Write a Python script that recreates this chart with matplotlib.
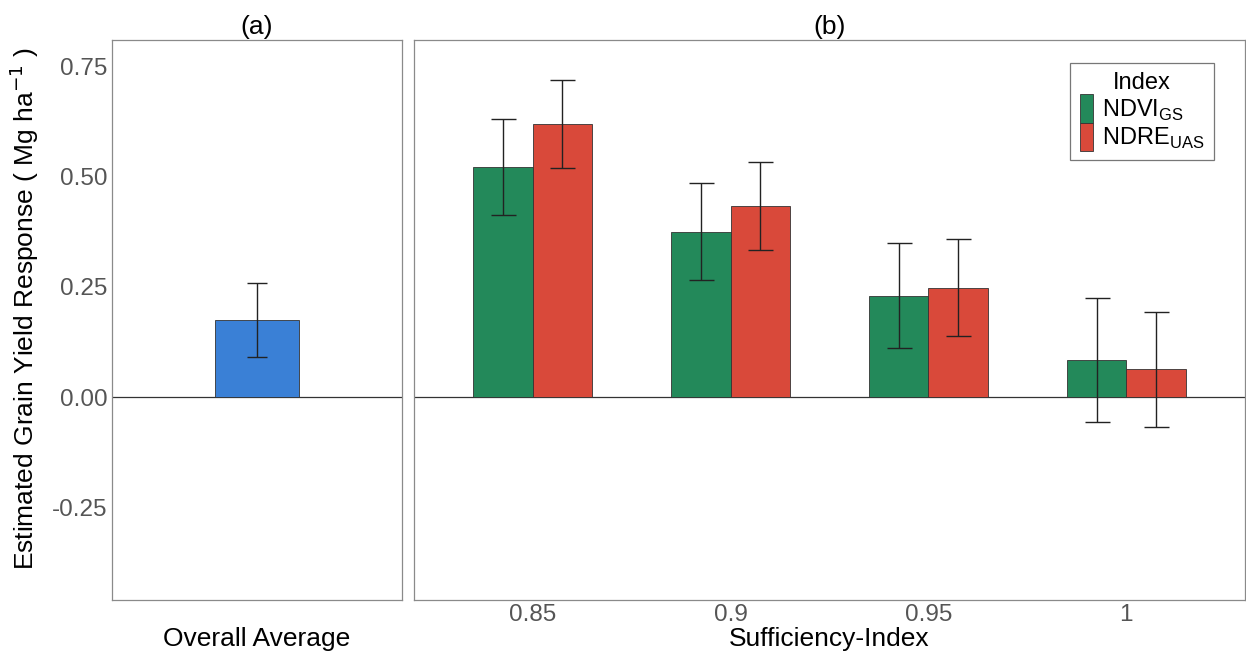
import numpy as np
import matplotlib
matplotlib.use("Agg")
import matplotlib.pyplot as plt
from matplotlib.patches import Patch

plt.rcParams['font.family'] = ['Liberation Sans', 'DejaVu Sans']

# ========== data ==========
overall_label = ['Overall']
overall_est = [0.175]
overall_lo = [0.091]
overall_hi = [0.259]

si_levels = ['0.85', '0.9', '0.95', '1']
ndvi_est = [0.523, 0.375, 0.230, 0.084]
ndvi_lo = [0.414, 0.266, 0.111, -0.057]
ndvi_hi = [0.632, 0.486, 0.350, 0.225]
ndre_est = [0.620, 0.434, 0.248, 0.064]
ndre_lo = [0.520, 0.334, 0.139, -0.068]
ndre_hi = [0.720, 0.534, 0.359, 0.193]

yticks = [-0.25, 0.0, 0.25, 0.5, 0.75]
ylim = (-0.461, 0.811)

c_blue = '#3a80d6'
c_green = '#23895a'
c_red = '#d9493a'
edge = '#333333'
tick_col = '#555555'
frame_col = '#8a8a8a'
FS = 19      # axis titles
TFS = 17.5   # tick labels

fig = plt.figure(figsize=(12.46, 6.54), dpi=100)
ax_a = fig.add_axes([0.0899, 0.0826, 0.2327, 0.8562])
ax_b = fig.add_axes([0.3323, 0.0826, 0.6669, 0.8562])

err_kw = dict(ecolor='#222222', elinewidth=1.0, capsize=9, capthick=1.0)

# panel (a)
xa = np.arange(len(overall_label))
ya = np.array(overall_est)
ax_a.bar(xa, ya, width=0.35, color=c_blue, edgecolor=edge, linewidth=0.6,
         yerr=[ya - np.array(overall_lo), np.array(overall_hi) - ya],
         error_kw=dict(err_kw, capsize=7))
ax_a.set_xlim(-0.6, 0.6)
ax_a.set_xticks(xa)
ax_a.set_xticklabels([''])
ax_a.set_xlabel('Overall Average', fontsize=FS)
ax_a.set_title('(a)', fontsize=FS, pad=4)

# panel (b)
xb = np.arange(len(si_levels))
w = 0.3
yv = np.array(ndvi_est)
yr = np.array(ndre_est)
ax_b.bar(xb - w / 2, yv, width=w, color=c_green, edgecolor=edge, linewidth=0.6,
         yerr=[yv - np.array(ndvi_lo), np.array(ndvi_hi) - yv], error_kw=err_kw)
ax_b.bar(xb + w / 2, yr, width=w, color=c_red, edgecolor=edge, linewidth=0.6,
         yerr=[yr - np.array(ndre_lo), np.array(ndre_hi) - yr], error_kw=err_kw)
ax_b.set_xlim(-0.6, len(si_levels) - 0.4)
ax_b.set_xticks(xb)
ax_b.set_xticklabels(si_levels)
ax_b.set_xlabel('Sufficiency-Index', fontsize=FS)
ax_b.set_title('(b)', fontsize=FS, pad=4)

for ax in (ax_a, ax_b):
    ax.set_ylim(*ylim)
    ax.set_yticks(yticks)
    ax.axhline(0, color='#333333', linewidth=0.9, zorder=0.5)
    for s in ax.spines.values():
        s.set_color(frame_col)
        s.set_linewidth(0.9)
    ax.tick_params(axis='both', colors=frame_col, labelcolor=tick_col,
                   labelsize=TFS, length=0, pad=3)
    # both x-axis titles sit at the same height, below the tick labels
    ax.xaxis.set_label_coords(0.5, -0.048)
    ax.xaxis.label.set_va('top')

ax_a.set_yticklabels(['-0.25', '0.00', '0.25', '0.50', '0.75'])
ax_b.tick_params(axis='y', left=False, labelleft=False)
ax_a.set_ylabel('Estimated Grain Yield Response ( Mg ha$^{-1}$ )', fontsize=FS)
ax_a.yaxis.set_label_coords(-0.245, 0.52)

handles = [Patch(facecolor=c_green, edgecolor=edge, linewidth=0.6),
           Patch(facecolor=c_red, edgecolor=edge, linewidth=0.6)]
leg = ax_b.legend(handles, ['NDVI$_{\\mathregular{GS}}$', 'NDRE$_{\\mathregular{UAS}}$'],
                  title='Index', loc='upper right', bbox_to_anchor=(0.977, 0.98),
                  fontsize=17, title_fontsize=17, handlelength=0.55, handleheight=1.45,
                  handletextpad=0.4, labelspacing=0.0, borderpad=0.4,
                  fancybox=False, frameon=True)
leg.get_frame().set_edgecolor('#555555')
leg.get_frame().set_linewidth(0.9)

fig.savefig('out.png', dpi=100)
